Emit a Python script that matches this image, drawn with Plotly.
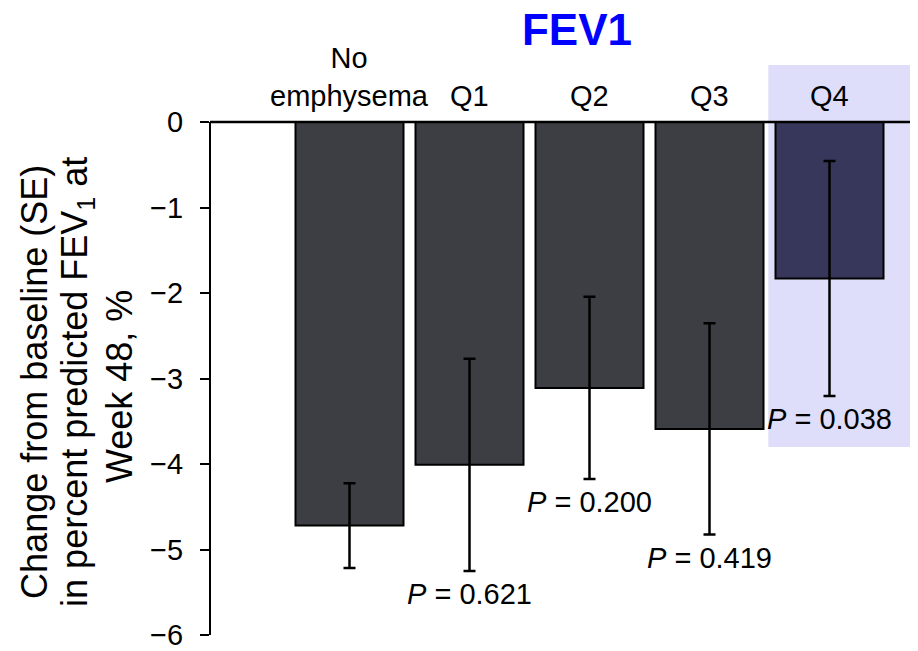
import plotly.graph_objects as go

categories = ["No emphysema", "Q1", "Q2", "Q3", "Q4"]
cat_labels = ["No<br>emphysema", "Q1", "Q2", "Q3", "Q4"]
means = [-4.72, -4.01, -3.11, -3.59, -1.83]
se = [0.495, 1.24, 1.065, 1.235, 1.375]
p_values = ["0.621", "0.200", "0.419", "0.038"]
bar_colors = ["#3d3e43", "#3d3e43", "#3d3e43", "#3d3e43", "#36375a"]
yticks = [0, -1, -2, -3, -4, -5, -6]
ytitle_lines = ["Change from baseline (SE)",
                "in percent predicted FEV<sub>1</sub> at",
                "Week 48, %"]

FONT = "Liberation Sans, Arial, Helvetica, sans-serif"

fig = go.Figure()
fig.add_trace(go.Bar(
    x=categories, y=means, width=0.9,
    marker=dict(color=bar_colors, line=dict(color="black", width=2)),
    error_y=dict(type="data", array=se, visible=True, color="black",
                 thickness=2.5, width=6),
    showlegend=False, hoverinfo="skip",
))

shapes = [
    dict(type="rect", xref="x", yref="y", x0=3.49, x1=4.74, y0=-3.8, y1=0.67,
         fillcolor="#dedefa", line=dict(width=0), layer="below"),
    dict(type="line", xref="paper", yref="y", x0=0, x1=1, y0=0, y1=0,
         line=dict(color="black", width=2.5), layer="above"),
    dict(type="line", xref="paper", yref="y", x0=0, x1=0, y0=0, y1=-6,
         line=dict(color="black", width=2), layer="above"),
]

annotations = []
for c, lab in zip(categories, cat_labels):
    annotations.append(dict(x=c, y=0, xref="x", yref="y", text=lab,
                            showarrow=False, yanchor="bottom", yshift=8,
                            font=dict(family=FONT, size=29, color="black")))
for c, m, e, p in zip(categories[1:], means[1:], se[1:], p_values):
    annotations.append(dict(x=c, y=m - e, xref="x", yref="y",
                            text=f"<i>P</i> = {p}", showarrow=False,
                            yanchor="top", yshift=-5,
                            font=dict(family=FONT, size=29, color="black")))
for xpos, ypos, line in zip([-0.2472, -0.1879, -0.1285], [-3.04, -3.04, -3.1],
                            ytitle_lines):
    annotations.append(dict(
        x=xpos, y=ypos, xref="paper", yref="y", textangle=-90,
        xanchor="center", yanchor="middle", text=line, showarrow=False,
        font=dict(family=FONT, size=36, color="black"),
    ))

fig.update_layout(
    width=910, height=643,
    margin=dict(l=202, r=0, t=57, b=14),
    paper_bgcolor="white", plot_bgcolor="rgba(0,0,0,0)",
    title=dict(text="<b>FEV1</b>", x=0.6253, xref="container", xanchor="center",
               y=0.966, yref="container", yanchor="middle",
               font=dict(family=FONT, size=44, color="#0000ff")),
    xaxis=dict(visible=False, range=[-1.1625, 4.7375], type="category",
               categoryorder="array", categoryarray=categories),
    yaxis=dict(range=[-6, 0.667], tickvals=yticks, ticks="outside",
               ticklen=9, tickwidth=2, tickcolor="black", showgrid=False,
               zeroline=False, showline=False, ticklabelstandoff=11,
               ticklabeloverflow="allow",
               tickfont=dict(family=FONT, size=29, color="black")),
    shapes=shapes, annotations=annotations, bargap=0.1,
)

fig.write_html("out.html")
